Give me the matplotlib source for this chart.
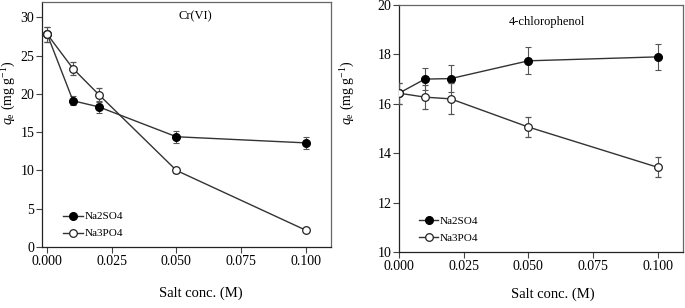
import numpy as np
import matplotlib
matplotlib.use("Agg")
import matplotlib.pyplot as plt
from matplotlib.lines import Line2D

plt.rcParams['font.family'] = ['Liberation Serif', 'DejaVu Serif']
plt.rcParams['mathtext.fontset'] = 'custom'
plt.rcParams['mathtext.it'] = 'Liberation Serif:italic'
plt.rcParams['mathtext.rm'] = 'Liberation Serif'

conc = [0.0, 0.01, 0.02, 0.05, 0.1]

# Cr(VI)
cr_so4 = [27.8, 19.1, 18.3, 14.4, 13.6]
cr_so4_err = [1.0, 0.6, 0.8, 0.8, 0.75]
cr_po4 = [27.8, 23.3, 19.9, 10.0, 2.2]
cr_po4_err = [1.0, 0.85, 0.9, 0.3, 0.2]

# 4-chlorophenol
cp_so4 = [16.43, 17.0, 17.02, 17.74, 17.9]
cp_so4_err = [0.42, 0.45, 0.56, 0.55, 0.53]
cp_po4 = [16.43, 16.27, 16.2, 15.06, 13.43]
cp_po4_err = [0.42, 0.5, 0.63, 0.41, 0.41]

xticks = [0.0, 0.025, 0.05, 0.075, 0.1]

fig = plt.figure(figsize=(6.85, 3.08), dpi=100)
ax1 = fig.add_axes([42/685, 61/308, 289/685, 245/308])
ax2 = fig.add_axes([399/685, 56/308, 284/685, 247/308])

line_c = '#333333'
ms = 5.5


def draw(ax, so4, so4e, po4, po4e, leg_anchor, ylab_xy, xlab_xy):
    ax.errorbar(conc, so4, yerr=so4e, color=line_c, lw=1, marker='o', ms=ms,
                mfc='black', mec='black', ecolor='#555555', elinewidth=0.8,
                capsize=2.5, capthick=0.8, zorder=3)
    ax.errorbar(conc, po4, yerr=po4e, color=line_c, lw=1, marker='o', ms=ms,
                mfc='white', mec='#222222', mew=0.9, ecolor='#555555',
                elinewidth=0.8, capsize=2.5, capthick=0.8, zorder=4)
    ax.set_xticks(xticks)
    ax.set_xticklabels(['%.3f' % t for t in xticks])
    ax.tick_params(direction='out', length=4, width=0.8, labelsize=10,
                   color='#444444', pad=1.5)
    for s in ax.spines.values():
        s.set_color('#666666')
        s.set_linewidth(0.9)
    ax.spines['left'].set_color('#222222')
    ax.spines['bottom'].set_color('#222222')
    ax.set_xlabel('Salt conc. (M)', fontsize=10.5)
    ax.xaxis.set_label_coords(*xlab_xy)
    ax.set_ylabel(r'$q_\mathrm{e}$ (mg g$^\mathrm{-1}$)', fontsize=10)
    ax.yaxis.set_label_coords(*ylab_xy)
    handles = [
        Line2D([], [], color=line_c, lw=1, marker='o', ms=ms,
               mfc='black', mec='black'),
        Line2D([], [], color=line_c, lw=1, marker='o', ms=ms,
               mfc='white', mec='#222222', mew=0.9),
    ]
    ax.legend(handles, ['Na2SO4', 'Na3PO4'], loc='lower left',
              bbox_to_anchor=leg_anchor, borderpad=0, borderaxespad=0,
              frameon=False, fontsize=8, handlelength=1.75,
              handletextpad=0.15, labelspacing=0.65)


draw(ax1, cr_so4, cr_so4_err, cr_po4, cr_po4_err, (0.073, 0.035),
     (-0.083, 0.63), (0.55, -0.163))
ax1.set_xlim(-0.002, 0.1098)
ax1.set_ylim(0, 32)
ax1.set_yticks([0, 5, 10, 15, 20, 25, 30])
ax1.text(0.53, 0.93, 'Cr(VI)', transform=ax1.transAxes, ha='center',
         fontsize=9)

draw(ax2, cp_so4, cp_so4_err, cp_po4, cp_po4_err, (0.07, 0.035),
     (-0.148, 0.646), (0.54, -0.142))
ax2.set_xlim(0, 0.1098)
ax2.set_ylim(10, 20)
ax2.set_yticks([10, 12, 14, 16, 18, 20])
ax2.text(0.52, 0.92, '4-chlorophenol', transform=ax2.transAxes,
         ha='center', fontsize=9)

fig.savefig('out.png', dpi=100)
